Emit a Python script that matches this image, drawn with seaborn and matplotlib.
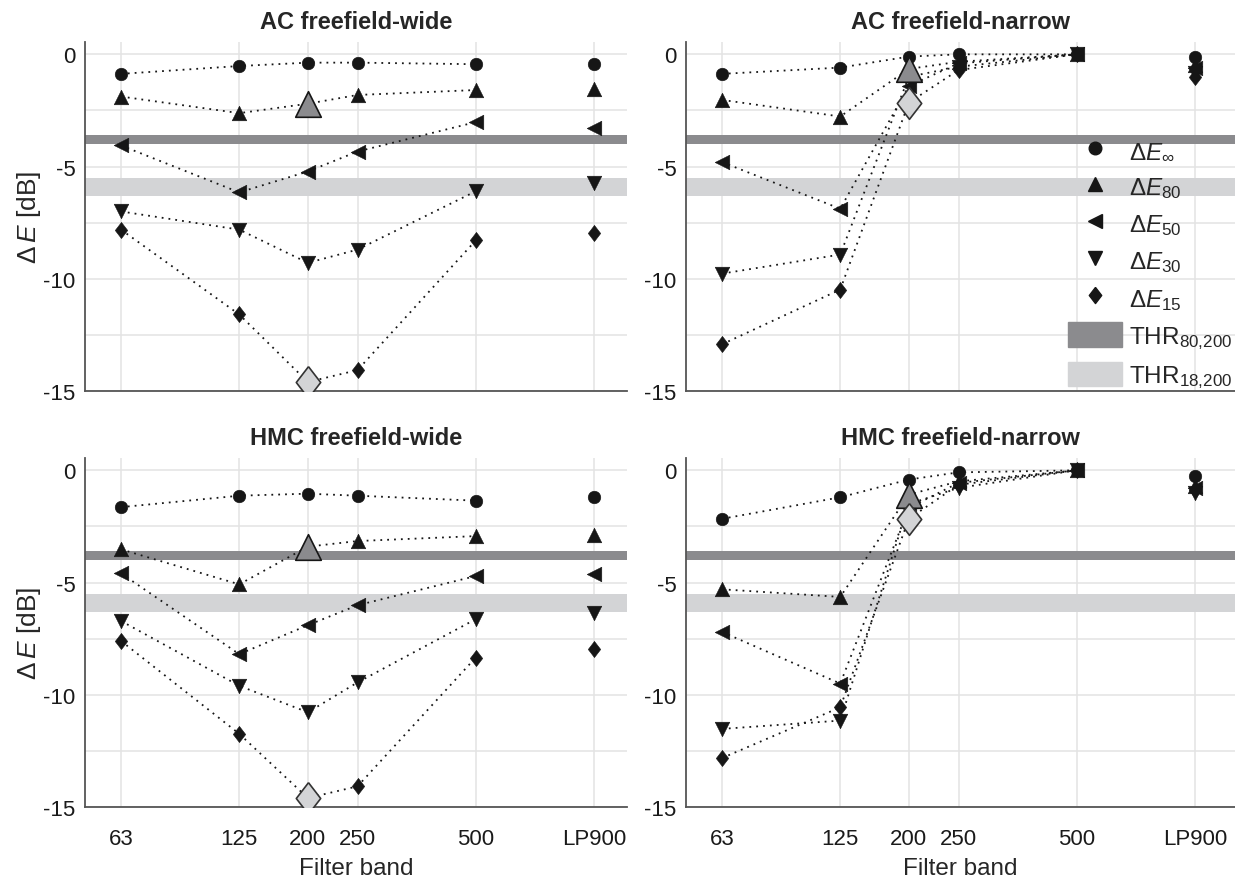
import numpy as np
import pandas as pd
import seaborn as sns
import matplotlib.pyplot as plt
from matplotlib.lines import Line2D
from matplotlib.patches import Patch

# filter bands (x in octave steps, 200 sits between 125 and 250)
band_labels = ['63', '125', '200', '250', '500', 'LP900']
band_pos = [0, 1, 1.58, 2, 3, 4]

series_names = ['inf', '80', '50', '30', '15']

# AC freefield-wide
ac_wide_inf = [-0.87, -0.52, -0.37, -0.37, -0.44, -0.44]
ac_wide_80 = [-1.88, -2.62, -2.2, -1.81, -1.59, -1.56]
ac_wide_50 = [-4.06, -6.15, -5.22, -4.33, -3.02, -3.29]
ac_wide_30 = [-7.0, -7.81, -9.29, -8.7, -6.1, -5.74]
ac_wide_15 = [-7.81, -11.59, -14.6, -14.07, -8.29, -7.96]

# AC freefield-narrow
ac_narrow_inf = [-0.87, -0.59, -0.1, 0.0, 0.0, -0.1]
ac_narrow_80 = [-2.03, -2.77, -0.65, -0.33, 0.0, -0.47]
ac_narrow_50 = [-4.8, -6.88, -1.41, -0.4, 0.0, -0.62]
ac_narrow_30 = [-9.77, -8.92, -1.0, -0.55, 0.0, -0.82]
ac_narrow_15 = [-12.92, -10.48, -2.15, -0.7, 0.0, -0.99]

# HMC freefield-wide
hmc_wide_inf = [-1.64, -1.13, -1.04, -1.13, -1.35, -1.2]
hmc_wide_80 = [-3.52, -5.08, -3.4, -3.15, -2.93, -2.86]
hmc_wide_50 = [-4.59, -8.19, -6.9, -6.01, -4.71, -4.64]
hmc_wide_30 = [-6.71, -9.6, -10.78, -9.45, -6.63, -6.34]
hmc_wide_15 = [-7.6, -11.74, -14.6, -14.08, -8.34, -7.97]

# HMC freefield-narrow
hmc_narrow_inf = [-2.16, -1.2, -0.41, -0.09, 0.0, -0.27]
hmc_narrow_80 = [-5.3, -5.64, -1.08, -0.49, 0.0, -0.71]
hmc_narrow_50 = [-7.2, -9.5, -1.67, -0.56, 0.0, -0.78]
hmc_narrow_30 = [-11.52, -11.15, -1.5, -0.78, 0.0, -1.0]
hmc_narrow_15 = [-12.82, -10.56, -2.16, -0.64, 0.0, -0.86]

# threshold bands (dB)
thr_80_200 = (-4.0, -3.6)
thr_18_200 = (-6.3, -5.5)

panels = [
    ('AC freefield-wide', [ac_wide_inf, ac_wide_80, ac_wide_50, ac_wide_30, ac_wide_15]),
    ('AC freefield-narrow', [ac_narrow_inf, ac_narrow_80, ac_narrow_50, ac_narrow_30, ac_narrow_15]),
    ('HMC freefield-wide', [hmc_wide_inf, hmc_wide_80, hmc_wide_50, hmc_wide_30, hmc_wide_15]),
    ('HMC freefield-narrow', [hmc_narrow_inf, hmc_narrow_80, hmc_narrow_50, hmc_narrow_30, hmc_narrow_15]),
]

sns.set_theme(style='whitegrid')
plt.rcParams['font.family'] = ['Liberation Sans', 'DejaVu Sans']
plt.rcParams['mathtext.fontset'] = 'custom'
plt.rcParams['mathtext.rm'] = 'Liberation Sans'
plt.rcParams['mathtext.it'] = 'Liberation Sans:italic'
plt.rcParams['mathtext.bf'] = 'Liberation Sans:bold'
plt.rcParams['axes.unicode_minus'] = False

dark_grey = '#8b8b8e'
light_grey = '#d3d4d6'
ink = '#161616'
# a slightly wider diamond than matplotlib's 'd'
diamond = [(0, 1), (0.77, 0), (0, -1), (-0.77, 0), (0, 1)]
markers = {'inf': 'o', '80': '^', '50': '<', '30': 'v', '15': diamond}
sizes = {'inf': 82, '80': 110, '50': 110, '30': 110, '15': 135}

W, H = 1235, 879
fig = plt.figure(figsize=(W / 100, H / 100), dpi=100)
# panel boxes in pixels: left, right, top, bottom
boxes = [(85, 627, 43, 392), (686, 1235, 43, 392),
         (85, 627, 459, 808), (686, 1235, 459, 808)]
px_per_oct = 118.25

for i, ((title, vals), (l, r, t, b)) in enumerate(zip(panels, boxes)):
    ax = fig.add_axes([l / W, 1 - b / H, (r - l) / W, (b - t) / H])
    rows = []
    for name, v in zip(series_names, vals):
        for j, (x, y) in enumerate(zip(band_pos, v)):
            rows.append({'series': name, 'x': x, 'y': y, 'band': band_labels[j]})
    df = pd.DataFrame(rows)

    ax.axhspan(*thr_80_200, color=dark_grey, lw=0, zorder=1.5)
    ax.axhspan(*thr_18_200, color=light_grey, lw=0, zorder=1.5)

    # dotted connections 63..500 (LP900 stands alone)
    for name in series_names:
        d = df[(df.series == name) & (df.band != 'LP900')]
        sns.lineplot(data=d, x='x', y='y', ax=ax, color=ink, lw=1.3,
                     linestyle=(0, (1, 2.8)), zorder=3, sort=False,
                     estimator=None, legend=False)

    big = ((df.series == '80') | (df.series == '15')) & (df.band == '200')
    for name in series_names:
        d = df[(df.series == name) & ~big]
        sns.scatterplot(data=d, x='x', y='y', ax=ax, marker=markers[name],
                        s=sizes[name], color=ink, edgecolor=ink, linewidth=0.4,
                        zorder=4, legend=False)
    d80 = df[big & (df.series == '80')]
    sns.scatterplot(data=d80, x='x', y='y', ax=ax, marker='^', s=340,
                    color=dark_grey, edgecolor=ink, linewidth=1.2, zorder=5, legend=False)
    d15 = df[big & (df.series == '15')]
    sns.scatterplot(data=d15, x='x', y='y', ax=ax, marker=diamond, s=520,
                    color=light_grey, edgecolor='#333333', linewidth=1.2, zorder=5, legend=False)

    ax.set_xlim(-36 / px_per_oct, 4 + (r - l - 36 - 4 * px_per_oct) / px_per_oct)
    ax.set_ylim(-15, 0.55)
    ax.set_xticks(band_pos)
    yt = np.arange(-15, 0.1, 2.5)
    ax.set_yticks(yt)
    ax.set_yticklabels(['%d' % v if v % 5 == 0 else '' for v in yt])
    ax.grid(True, color='#e3e3e3', lw=1.1)
    ax.set_axisbelow(True)
    for s in ['top', 'right']:
        ax.spines[s].set_visible(False)
    for s in ['left', 'bottom']:
        ax.spines[s].set_color('#555555')
        ax.spines[s].set_linewidth(1.3)
    ax.tick_params(axis='both', labelsize=16, length=0, colors='#1a1a1a')
    ax.tick_params(axis='y', pad=7)
    ax.tick_params(axis='x', pad=15)
    ax.set_title(title, fontsize=17, fontweight='bold', pad=10)

    if i >= 2:
        ax.set_xticklabels(band_labels)
        ax.set_xlabel('Filter band', fontsize=17.5, labelpad=6)
    else:
        ax.set_xticklabels([])
        ax.set_xlabel('')
    if i % 2 == 0:
        ax.set_ylabel(r'$\Delta\,E$ [dB]', fontsize=19, labelpad=0)
    else:
        ax.set_ylabel('')

    if i == 1:
        labels = [r'$\Delta E_\infty$', r'$\Delta E_{80}$', r'$\Delta E_{50}$',
                  r'$\Delta E_{30}$', r'$\Delta E_{15}$']
        handles = [Line2D([], [], ls='none', marker=markers[n], color=ink,
                          markersize=np.sqrt(sizes[n])) for n in series_names]
        handles += [Patch(color=dark_grey), Patch(color=light_grey)]
        labels += [r'THR$_{80{,}200}$', r'THR$_{18{,}200}$']
        ax.legend(handles, labels, loc='lower right', bbox_to_anchor=(0.997, 0),
                  frameon=False, fontsize=17.5,
                  handlelength=2.2, handleheight=1.15, labelspacing=0.45,
                  handletextpad=0.3, borderaxespad=0.0, borderpad=0.05)

fig.savefig('out.png', dpi=100)
